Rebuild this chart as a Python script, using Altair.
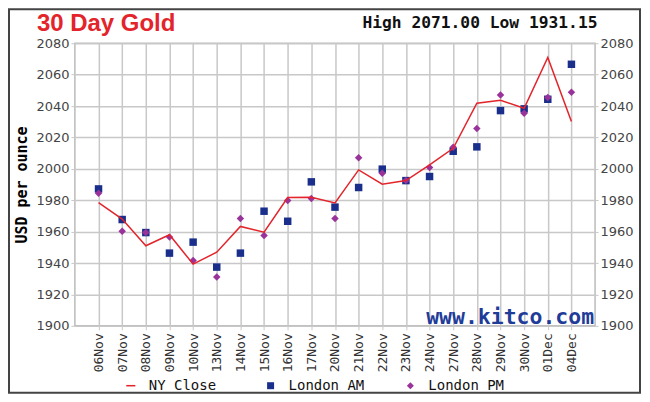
import altair as alt
import pandas as pd

dates = ["06Nov", "07Nov", "08Nov", "09Nov", "10Nov", "13Nov", "14Nov", "15Nov",
         "16Nov", "17Nov", "20Nov", "21Nov", "22Nov", "23Nov", "24Nov", "27Nov",
         "28Nov", "29Nov", "30Nov", "01Dec", "04Dec"]
ny_close = [1978.5, 1968.0, 1951.0, 1958.0, 1939.3, 1946.9, 1963.3, 1959.6,
            1981.7, 1981.9, 1978.3, 1999.3, 1990.2, 1992.5, 2002.5, 2013.1,
            2041.8, 2043.7, 2038.6, 2071.0, 2030.1]
london_am = [1987.2, 1967.7, 1959.4, 1946.3, 1953.3, 1937.4, 1946.3, 1973.0,
             1966.6, 1991.7, 1975.6, 1988.1, 1999.8, 1992.5, 1995.1, 2011.2,
             2014.0, 2037.1, 2038.2, 2044.3, 2066.6]
london_pm = [1984.5, 1960.3, 1959.4, 1956.5, 1941.6, 1931.15, 1968.3, 1957.5,
             1979.8, 1981.1, 1968.3, 2007.0, 1997.2, 1992.5, 2000.8, 2013.8,
             2025.7, 2047.1, 2035.4, 2045.4, 2048.8]
y_ticks = [1900, 1920, 1940, 1960, 1980, 2000, 2020, 2040, 2060, 2080]
series_names = ["NY Close", "London AM", "London PM"]
series_colors = ["#e3242b", "#1a2f8c", "#993399"]
series_shapes = ["M-1.3,-0.22H1.3V0.22H-1.3Z", "square", "diamond"]
title_text = "30 Day Gold"
range_text = "High 2071.00 Low 1931.15"
site_text = "www.kitco.com"

GRID = "#c8c8c8"
W, H = 521, 283

line_df = pd.DataFrame({"date": dates, "price": ny_close})
pts_df = pd.DataFrame({
    "date": dates + dates,
    "price": london_am + london_pm,
    "series": ["London AM"] * len(dates) + ["London PM"] * len(dates),
})

x_axis = alt.Axis(title=None, labelAngle=-90, labelFont="DejaVu Sans Mono",
                  labelFontSize=13, labelColor="#333", grid=True,
                  gridColor=GRID, gridWidth=1.5, tickColor=GRID, tickSize=4,
                  labelPadding=3, domain=False)
x_enc = alt.X("date:N", sort=dates, scale=alt.Scale(type="point", padding=1),
              axis=x_axis)
y_scale = alt.Scale(domain=[1900, 2080], nice=False, zero=False)

legend = alt.Legend(title=None, orient="none", legendX=49, legendY=336,
                    direction="horizontal", gridAlign="all", columnPadding=39,
                    labelFont="DejaVu Sans Mono", labelFontSize=14,
                    labelColor="#111", symbolSize=49, symbolStrokeWidth=0,
                    symbolOpacity=1, labelOffset=11)

points = alt.Chart(pts_df).mark_point(filled=True, size=56, opacity=1).encode(
    x=x_enc,
    y=alt.Y("price:Q", scale=y_scale,
            axis=alt.Axis(values=y_ticks, format="d", title="USD per ounce",
                          titleFont="DejaVu Sans Mono", titleFontSize=15,
                          titleFontWeight="bold", titleColor="black",
                          titleX=-53, titleY=H / 2, titleAngle=-90,
                          titleAlign="center", titleBaseline="middle",
                          labelFont="DejaVu Sans", labelFontSize=13,
                          labelColor="#444", grid=True, gridColor=GRID,
                          gridWidth=1.5, tickColor=GRID, tickSize=4,
                          labelPadding=2, domain=False)),
    color=alt.Color("series:N", scale=alt.Scale(domain=series_names, range=series_colors),
                    legend=legend),
    shape=alt.Shape("series:N", scale=alt.Scale(domain=series_names, range=series_shapes),
                    legend=legend),
)

line = alt.Chart(line_df).mark_line(color="#e3242b", strokeWidth=1.5).encode(
    x=x_enc,
    y=alt.Y("price:Q", scale=y_scale,
            axis=alt.Axis(values=y_ticks, format="d", orient="right", title=None,
                          labelFont="DejaVu Sans", labelFontSize=13,
                          labelColor="#444", grid=False, tickColor=GRID,
                          tickSize=3, labelPadding=2, domain=False)),
)

title = alt.Chart(pd.DataFrame({"t": [title_text]})).mark_text(
    font="Liberation Sans", fontSize=24, fontWeight="bold", color="#e3242b",
    align="left", baseline="alphabetic").encode(
    text="t:N", x=alt.value(-38), y=alt.value(-12))

rng = alt.Chart(pd.DataFrame({"t": [range_text]})).mark_text(
    font="DejaVu Sans Mono", fontSize=16.3, fontWeight="bold", color="#111",
    align="left", baseline="alphabetic").encode(
    text="t:N", x=alt.value(288), y=alt.value(-15))

site = alt.Chart(pd.DataFrame({"t": [site_text]})).mark_text(
    font="DejaVu Sans Mono", fontSize=21.5, fontWeight="bold", color="#1f3c99",
    align="right", baseline="alphabetic").encode(
    text="t:N", x=alt.value(520), y=alt.value(281))

frame = alt.Chart(pd.DataFrame({"f": [0]})).mark_rect(
    fill="transparent", stroke="#444", strokeWidth=2).encode(
    x=alt.value(-66), x2=alt.value(566), y=alt.value(-34), y2=alt.value(350))

chart = alt.layer(points, line, site, title, rng, frame).resolve_scale(
    y="independent"
).properties(
    width=W, height=H,
    autosize=alt.AutoSizeParams(type="none"),
    padding={"left": 67, "top": 35, "right": 47, "bottom": 68},
    background="white",
).configure_view(stroke="#bbbbbb", strokeWidth=1.5)

chart.save("out.html", embed_options={"renderer": "svg", "actions": False})
